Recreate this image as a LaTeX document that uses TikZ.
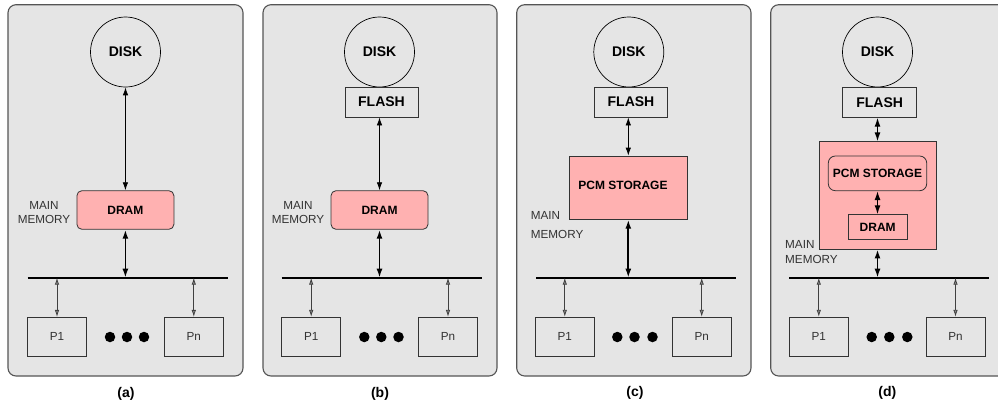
\documentclass[tikz,border=0pt]{standalone}
\usepackage{fontspec}
\setmainfont{Liberation Sans}
\usetikzlibrary{arrows.meta}
\definecolor{panelfill}{HTML}{E5E5E5}
\definecolor{panelborder}{HTML}{555555}
\definecolor{pinkfill}{HTML}{FFB1B1}
\definecolor{txtgray}{HTML}{333333}
\newcommand{\fsz}[1]{\fontsize{#1}{#1}\selectfont}
\newcommand{\fszb}[2]{\fontsize{#1}{#2}\selectfont}
\tikzset{
  panel/.style={draw=panelborder, fill=panelfill, rounded corners=8pt, line width=1.1pt},
  disk/.style={circle, draw, line width=0.7pt, minimum size=70pt, inner sep=0pt, font=\bfseries\fsz{14}},
  flashbox/.style={draw=black!80, line width=0.8pt, minimum width=73pt, minimum height=30pt, inner sep=0pt, font=\bfseries\fsz{14}},
  drambox/.style={draw=black!80, fill=pinkfill, line width=0.8pt, rounded corners=5pt, minimum width=97pt, minimum height=38.6pt, inner sep=0pt, font=\bfseries\fsz{12}},
  pcmbox/.style={draw=black!80, fill=pinkfill, line width=0.8pt, inner sep=0pt},
  boldtxt/.style={inner sep=0pt, font=\bfseries\fsz{12}},
  pbox/.style={draw=black!80, line width=0.7pt, minimum width=59pt, minimum height=39pt, inner sep=0pt, text=txtgray, font=\fsz{11.7}},
  dotnode/.style={circle, fill=black, minimum size=10.5pt, inner sep=0pt},
  memlabel/.style={inner sep=0pt, text=txtgray},
  caption/.style={inner sep=0pt, font=\bfseries\fsz{14}},
  bus/.style={line width=1.8pt},
  mainarrow/.style={{Latex[length=8pt,width=5.5pt]}-{Latex[length=8pt,width=5.5pt]}, line width=0.8pt},
  thickarrow/.style={{Latex[length=9pt,width=6pt]}-{Latex[length=9pt,width=6pt]}, line width=1.7pt},
  smallarrow/.style={{Latex[length=7pt,width=4.5pt,fill=black!45]}-{Latex[length=7pt,width=4.5pt,fill=black!45]}, line width=0.8pt, draw=black!75}
}
\begin{document}
\begin{tikzpicture}[x=1pt,y=-1pt]
\useasboundingbox (0,0) rectangle (998,407);
\clip (0,0) rectangle (998,407);

% ---------------- panels
\draw[panel] (8,4.7) rectangle (243,376);
\draw[panel] (263,4.7) rectangle (497,376);
\draw[panel] (516.7,4.7) rectangle (751,376);
\draw[panel] (770.7,4.7) rectangle (1005.7,376);

% ================= (a)
\node[disk] (diskA) at (125.5,52) {DISK};
\node[drambox] (dramA) at (125.4,210) {DRAM};
\node[memlabel, align=center, font={\fszb{11.7}{14}}] (memA) at (44,213) {MAIN\\MEMORY};
\coordinate (busAl) at (27.7,277.7);
\coordinate (busAr) at (228.3,277.7);
\draw[bus] (busAl) -- (busAr);
\node[pbox] (p1A) at (57,336.8) {P1};
\node[pbox] (pnA) at (193.8,336.8) {Pn};
\node[dotnode] (dA1) at (110,337) {};
\node[dotnode] (dA2) at (127,337) {};
\node[dotnode] (dA3) at (144,337) {};
\draw[mainarrow] (diskA.south) -- (dramA.north);
\draw[thickarrow] (dramA.south) -- (dramA.south |- busAl);
\draw[smallarrow] (p1A.north |- busAl) -- (p1A.north);
\draw[smallarrow] (pnA.north |- busAl) -- (pnA.north);
\node[caption] (capA) at (126,394) {(a)};

% ================= (b)
\node[disk] (diskB) at (379.5,52) {DISK};
\node[flashbox] (flashB) at (381.5,102) {FLASH};
\node[drambox] (dramB) at (379.5,210) {DRAM};
\node[memlabel, align=center, font={\fszb{11.7}{14}}] (memB) at (298,213) {MAIN\\MEMORY};
\coordinate (busBl) at (281.7,277.7);
\coordinate (busBr) at (481.7,277.7);
\draw[bus] (busBl) -- (busBr);
\node[pbox] (p1B) at (311.2,336.7) {P1};
\node[pbox] (pnB) at (448,336.7) {Pn};
\node[dotnode] (dB1) at (364.3,337) {};
\node[dotnode] (dB2) at (381.3,337) {};
\node[dotnode] (dB3) at (398.5,337) {};
\draw[mainarrow] (dramB.north |- flashB.south) -- (dramB.north);
\draw[thickarrow] (dramB.south) -- (dramB.south |- busBl);
\draw[smallarrow] (p1B.north |- busBl) -- (p1B.north);
\draw[smallarrow] (pnB.north |- busBl) -- (pnB.north);
\node[caption] (capB) at (380,394) {(b)};

% ================= (c)
\node[disk] (diskC) at (628.8,52) {DISK};
\node[flashbox] (flashC) at (631,102) {FLASH};
\node[pcmbox, minimum width=118pt, minimum height=63.3pt] (pcmC) at (628.3,187.65) {};
\node[boldtxt] (pcmCt) at (623,185.3) {PCM STORAGE};
\node[memlabel, anchor=west, align=left, font={\fszb{11.7}{19}}] (memC) at (530.7,225.5) {MAIN\\MEMORY};
\coordinate (busCl) at (536,277.7);
\coordinate (busCr) at (736,277.7);
\draw[bus] (busCl) -- (busCr);
\node[pbox] (p1C) at (564.8,336.7) {P1};
\node[pbox] (pnC) at (701.7,336.7) {Pn};
\node[dotnode] (dC1) at (617.3,337) {};
\node[dotnode] (dC2) at (634.5,337) {};
\node[dotnode] (dC3) at (652.5,337) {};
\draw[mainarrow] (pcmC.north |- flashC.south) -- (pcmC.north);
\draw[thickarrow] (pcmC.south) -- (pcmC.south |- busCl);
\draw[smallarrow] (p1C.north |- busCl) -- (p1C.north);
\draw[smallarrow] (pnC.north |- busCl) -- (pnC.north);
\node[caption] (capC) at (635,393) {(c)};

% ================= (d)
\node[disk] (diskD) at (877.5,52) {DISK};
\node[flashbox, minimum width=74pt] (flashD) at (879.7,102.3) {FLASH};
\node[pcmbox, minimum width=117pt, minimum height=107.3pt] (outerD) at (877.5,195.4) {};
\node[drambox, minimum width=98.4pt, minimum height=34.7pt, rounded corners=7pt, font=\bfseries\fsz{12}] (pcmD) at (877.5,173.35) {PCM STORAGE};
\node[pcmbox, minimum width=58.7pt, minimum height=24.6pt, font=\bfseries\fsz{12}] (dramD) at (877.7,227) {DRAM};
\node[memlabel, anchor=west, align=left, font={\fszb{11.7}{14.3}}] (memD) at (785,252) {MAIN\\MEMORY};
\coordinate (busDl) at (789.3,277.7);
\coordinate (busDr) at (989.3,277.7);
\draw[bus] (busDl) -- (busDr);
\node[pbox] (p1D) at (818.8,336.7) {P1};
\node[pbox] (pnD) at (955.5,336.7) {Pn};
\node[dotnode] (dD1) at (871.7,337) {};
\node[dotnode] (dD2) at (889.3,337) {};
\node[dotnode] (dD3) at (907.3,337) {};
\draw[thickarrow, line width=1.3pt] (outerD.north |- flashD.south) -- (outerD.north);
\draw[thickarrow, line width=1.3pt] (pcmD.south) -- (pcmD.south |- dramD.north);
\draw[thickarrow] (outerD.south) -- (outerD.south |- busDl);
\draw[smallarrow] (p1D.north |- busDl) -- (p1D.north);
\draw[smallarrow] (pnD.north |- busDl) -- (pnD.north);
\node[caption] (capD) at (887.3,393) {(d)};
\end{tikzpicture}
\end{document}
